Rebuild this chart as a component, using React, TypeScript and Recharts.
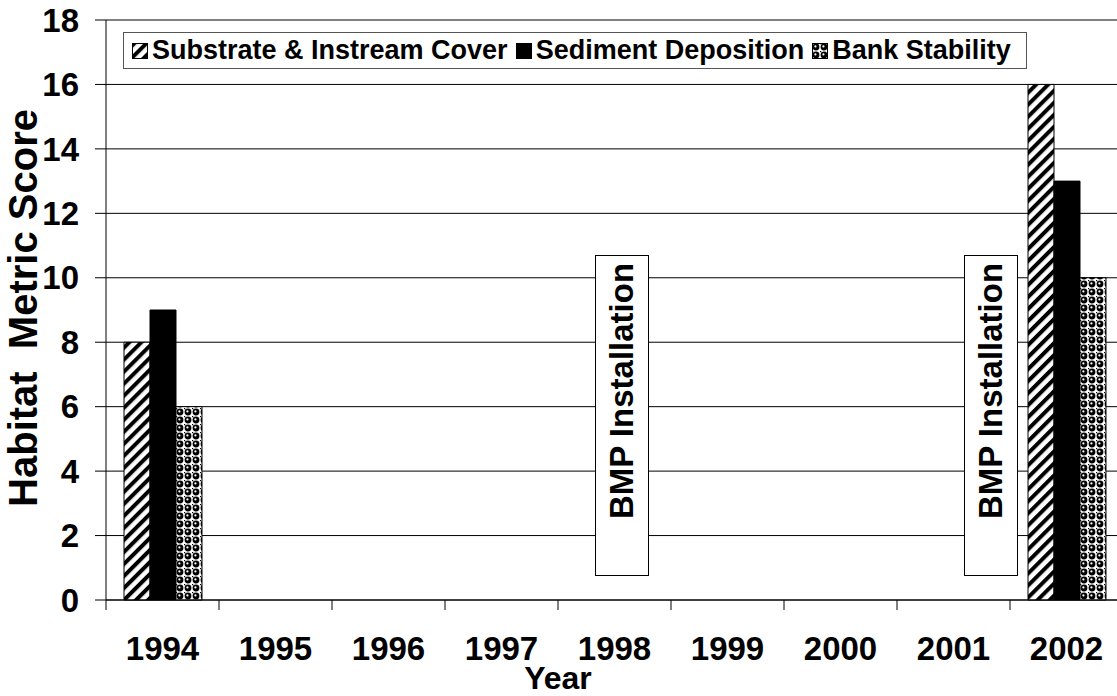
import {
  BarChart,
  Bar,
  XAxis,
  YAxis,
  CartesianGrid,
  Legend,
} from "recharts";

const FONT = '"Liberation Sans", Arial, sans-serif';

const years = ["1994", "1995", "1996", "1997", "1998", "1999", "2000", "2001", "2002"];
const substrateCover = [8, null, null, null, null, null, null, null, 16];
const sedimentDeposition = [9, null, null, null, null, null, null, null, 13];
const bankStability = [6, null, null, null, null, null, null, null, 10];
const yTicks = [0, 2, 4, 6, 8, 10, 12, 14, 16, 18];

const series = [
  { key: "substrate", name: "Substrate & Instream Cover", fill: "url(#hatch)" },
  { key: "sediment", name: "Sediment Deposition", fill: "#000" },
  { key: "bank", name: "Bank Stability", fill: "url(#spheres)" },
];

const data = years.map((year, i) => ({
  year,
  substrate: substrateCover[i],
  sediment: sedimentDeposition[i],
  bank: bankStability[i],
}));

// annotation boxes, in pixels
const bmpBoxes = [
  { left: 595, top: 255, width: 53, height: 320 },
  { left: 964, top: 255, width: 53, height: 320 },
];

function XTick(props: any) {
  const { x, y, payload } = props;
  const half = payload?.offset ?? 56.5;
  return (
    <g>
      <line x1={x - half} x2={x - half} y1={y - 10} y2={y} stroke="#000" />
      <text
        x={x}
        y={y + 50}
        textAnchor="middle"
        fontFamily={FONT}
        fontWeight="bold"
        fontSize={33}
        fill="#000"
      >
        {payload.value}
      </text>
    </g>
  );
}

function LegendBox() {
  return (
    <div
      style={{
        boxSizing: "border-box",
        border: "1px solid #555",
        background: "#fff",
        height: 37,
        display: "flex",
        alignItems: "center",
        paddingLeft: 8,
        fontFamily: FONT,
        fontWeight: "bold",
        fontSize: 27,
        color: "#000",
        whiteSpace: "nowrap",
      }}
    >
      {series.map((s) => (
        <span key={s.key} style={{ display: "flex", alignItems: "center", marginRight: 8 }}>
          <svg width={16} height={16} style={{ marginRight: 4 }}>
            <rect x={0.5} y={0.5} width={15} height={15} fill={s.fill} stroke="#000" />
          </svg>
          {s.name}
        </span>
      ))}
    </div>
  );
}

export default function App() {
  return (
    <div
      style={{
        position: "absolute",
        left: 0,
        top: 0,
        width: 1117,
        height: 696,
        overflow: "hidden",
        background: "#fff",
      }}
    >
      <BarChart
        width={1123}
        height={696}
        data={data}
        margin={{ top: 20, right: 0, left: 0, bottom: 26 }}
        barCategoryGap={18}
        barGap={0}
      >
        <defs>
          <pattern
            id="hatch"
            patternUnits="userSpaceOnUse"
            width={8.5}
            height={8.5}
            patternTransform="rotate(45)"
          >
            <rect width={8.5} height={8.5} fill="#fff" />
            <rect width={4} height={8.5} fill="#000" />
          </pattern>
          <pattern id="spheres" patternUnits="userSpaceOnUse" width={8} height={8}>
            <rect width={8} height={8} fill="#fff" />
            <circle cx={4} cy={4} r={3.4} fill="#000" />
            <circle cx={3.4} cy={3.4} r={1.1} fill="#fff" />
            <rect x={0} y={0} width={1.2} height={1.2} fill="#000" />
          </pattern>
        </defs>
        <CartesianGrid vertical={false} stroke="#000" />
        <XAxis
          dataKey="year"
          interval={0}
          tickLine={false}
          tickSize={10}
          tickMargin={0}
          height={70}
          axisLine={{ stroke: "#000" }}
          tick={<XTick />}
          label={{
            content: () => (
              <text
                x={558}
                y={689}
                textAnchor="middle"
                fontFamily={FONT}
                fontWeight="bold"
                fontSize={32}
                fill="#000"
              >
                Year
              </text>
            ),
          }}
        />
        <YAxis
          width={106}
          domain={[0, 18]}
          ticks={yTicks}
          interval={0}
          tickSize={11}
          tickMargin={16}
          axisLine={{ stroke: "#000" }}
          tickLine={{ stroke: "#000" }}
          tick={{ fill: "#000", fontSize: 33, fontWeight: "bold", fontFamily: FONT }}
          label={{
            content: () => (
              <text
                x={23}
                y={308}
                transform="rotate(-90 23 308)"
                textAnchor="middle"
                dominantBaseline="central"
                fontFamily={FONT}
                fontWeight="bold"
                fontSize={40}
                fill="#000"
              >
                {"Habitat\u00a0 Metric Score"}
              </text>
            ),
          }}
        />
        <Legend
          layout="vertical"
          align="center"
          verticalAlign="middle"
          content={() => <LegendBox />}
          wrapperStyle={{ left: 123, top: 32, width: 904, height: 37 }}
        />
        {series.map((s) => (
          <Bar
            key={s.key}
            dataKey={s.key}
            name={s.name}
            fill={s.fill}
            stroke="#000"
            strokeWidth={1}
            isAnimationActive={false}
          />
        ))}
      </BarChart>
      <svg
        width={1117}
        height={696}
        style={{ position: "absolute", left: 0, top: 0, pointerEvents: "none" }}
      >
        {bmpBoxes.map((b, i) => {
          const cx = b.left + b.width / 2;
          const cy = 391;
          return (
            <g key={i}>
              <rect
                x={b.left + 0.5}
                y={b.top + 0.5}
                width={b.width}
                height={b.height}
                fill="#fff"
                stroke="#000"
              />
              <text
                x={cx}
                y={cy}
                transform={`rotate(-90 ${cx} ${cy})`}
                textAnchor="middle"
                dominantBaseline="central"
                fontFamily={FONT}
                fontWeight="bold"
                fontSize={33}
                fill="#000"
              >
                BMP Installation
              </text>
            </g>
          );
        })}
      </svg>
    </div>
  );
}
